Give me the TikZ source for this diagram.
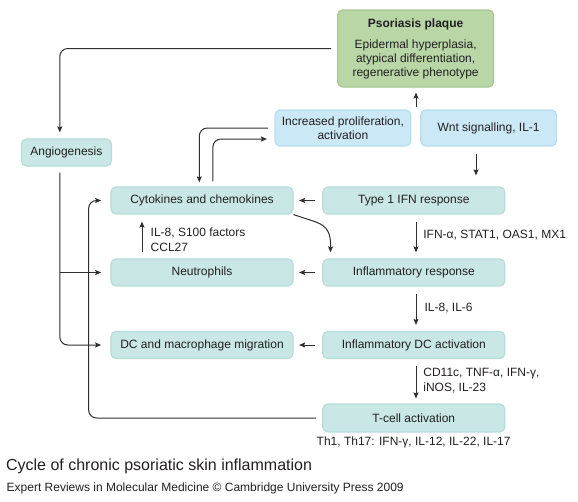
\documentclass[tikz,border=0pt]{standalone}
\usepackage{fontspec}
\setmainfont{Liberation Sans}
\usetikzlibrary{arrows.meta,calc}
\definecolor{tealbox}{HTML}{C8E7E5}
\definecolor{tealedge}{HTML}{B5DCD9}
\definecolor{bluebox}{HTML}{CBE8F6}
\definecolor{blueedge}{HTML}{B6DDF0}
\definecolor{greenbox}{HTML}{B8D6A6}
\definecolor{greenedge}{HTML}{A3C88F}
\definecolor{linec}{HTML}{2E2E2E}
\definecolor{txt}{HTML}{231F20}
\begin{document}
\begin{tikzpicture}[x=1pt,y=-1pt,
  every node/.style={text=txt},
  box/.style={rectangle, rounded corners=5pt, fill=tealbox, draw=tealedge, line width=1.2pt,
    align=center, inner sep=0pt, font=\fontsize{12}{14}\selectfont},
  bbox/.style={box, fill=bluebox, draw=blueedge},
  gbox/.style={box, fill=greenbox, draw=greenedge},
  rowbox/.style={box, minimum width=182pt, minimum height=27pt},
  lab/.style={inner sep=0pt, align=left, font=\fontsize{12}{15}\selectfont, anchor=west},
  arr/.style={draw=linec, line width=1pt, -{Stealth[length=6pt,width=5pt,inset=1pt]}},
  ln/.style={draw=linec, line width=1pt}
]
\useasboundingbox (0,0) rectangle (578,501);

% boxes
\node[gbox, minimum width=156pt, minimum height=77pt] (plq) at (415.6,48.5)
  {\textbf{Psoriasis plaque}\\[7pt]Epidermal hyperplasia,\\atypical differentiation,\\regenerative phenotype};
\node[bbox, minimum width=135.7pt, minimum height=36pt] (inc) at (342.9,128)
  {Increased proliferation,\\activation};
\node[bbox, minimum width=135.8pt, minimum height=36pt] (wnt) at (488.6,128)
  {Wnt signalling, IL-1};
\node[box, minimum width=90pt, minimum height=27pt] (angio) at (66.4,152.5) {Angiogenesis};

\node[rowbox] (cyt) at (202,200.5) {Cytokines and chemokines};
\node[rowbox] (t1)  at (413.8,200.5) {Type 1 IFN response};
\node[rowbox] (neu) at (202,272.5) {Neutrophils};
\node[rowbox] (ir)  at (413.8,272.5) {Inflammatory response};
\node[rowbox] (dc)  at (202,345) {DC and macrophage migration};
\node[rowbox] (idc) at (413.8,345) {Inflammatory DC activation};
\node[rowbox, minimum height=28pt] (tc) at (413.8,418) {T-cell activation};

% helper coordinates
\coordinate (av) at ($(angio.south)+(-6.6,0)$);
\coordinate (lx) at (88.6,0);
\coordinate (up) at (416,107);
\coordinate (wx) at ($(wnt.south)+(-12.6,0)$);
\coordinate (nx) at ($(neu.north)+(-60,0)$);
\coordinate (ix) at ($(t1.south)+(2.2,0)$);
\coordinate (c1) at (316,222);
\coordinate (c2) at (328,226.5);
\coordinate (c3) at (331,234);
\coordinate (c4) at ($(ir.north west)+(8,0)$);

% connectors
\draw[arr, rounded corners=8pt, shorten >=6pt] ($(plq.west)+(-6,0)$) -| (av |- angio.north);
\draw[arr, shorten >=5pt] (up) -- (up |- plq.south);
\draw[arr, rounded corners=8pt, shorten >=4pt] ($(inc.west)+(-6.4,0)$) -| ($(cyt.north)+(-2.7,0)$);
\draw[arr, rounded corners=8pt, shorten <=5pt, shorten >=7.5pt] ($(cyt.north)+(10.9,0)$) |- ($(inc.west)+(0,11)$);
\draw[arr, shorten <=7pt, shorten >=11pt] (wx) -- (wx |- t1.north);

\draw[arr, rounded corners=8pt, shorten <=6pt, shorten >=9.2pt] (av) |- (dc.west);
\draw[arr, shorten >=9.2pt] (av |- neu.west) -- (neu.west);
\draw[arr, rounded corners=8pt, shorten <=6.4pt, shorten >=9.2pt] (tc.west) -| (lx |- cyt.west) -- (cyt.west);

\draw[arr, shorten <=7.4pt, shorten >=5.5pt] (t1.west) -- (cyt.east);
\draw[arr, shorten <=7.4pt, shorten >=5.5pt] (ir.west) -- (neu.east);
\draw[arr, shorten <=7.4pt, shorten >=5.5pt] (idc.west) -- (dc.east);

\draw[arr, shorten >=6pt] (cyt.south east) -- (c1) .. controls (c2) and (c3) .. (c4);

\draw[arr, shorten <=6pt, shorten >=7pt] (nx) -- (nx |- cyt.south);
\draw[arr, shorten <=7pt, shorten >=6pt] (ix) -- (ix |- ir.north);
\draw[arr, shorten <=7pt, shorten >=6pt] (ix |- ir.south) -- (ix |- idc.north);
\draw[arr, shorten <=7pt, shorten >=5pt] (ix |- idc.south) -- (ix |- tc.north);

% labels
\node[lab] (l1) at (150.5,240.2) {IL-8, S100 factors\\CCL27};
\node[lab] (l2) at (423.2,235.3) {IFN-α, STAT1, OAS1, MX1};
\node[lab] (l3) at (424.4,307.7) {IL-8, IL-6};
\node[lab] (l4) at (423.2,380.5) {CD11c, TNF-α, IFN-γ,\\iNOS, IL-23};
\node[inner sep=0pt, font=\fontsize{12}{14}\selectfont] (l5) at (413.6,442) {Th1, Th17: IFN-γ, IL-12, IL-22, IL-17};

\node[inner sep=0pt, anchor=west, font=\fontsize{16}{18}\selectfont] (cap) at (5.9,466.7) {Cycle of chronic psoriatic skin inflammation};
\node[inner sep=0pt, anchor=west, font=\fontsize{12}{14}\selectfont] (foot) at (6.5,488) {Expert Reviews in Molecular Medicine © Cambridge University Press 2009};
\end{tikzpicture}
\end{document}
